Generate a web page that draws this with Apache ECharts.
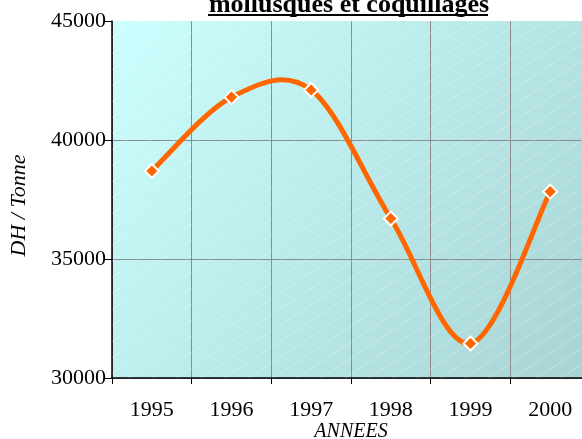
<!DOCTYPE html>
<html>
<head>
<meta charset="utf-8">
<script src="https://cdn.jsdelivr.net/npm/echarts@6/dist/echarts.min.js"></script>
<style>
  html, body { margin: 0; padding: 0; background: #fff; }
  #chart { width: 582px; height: 439px; }
</style>
</head>
<body>
<div id="chart"></div>
<script>
const years = ['1995', '1996', '1997', '1998', '1999', '2000']
const tonnage = [38700, 41800, 42100, 36700, 31450, 37830]
const yTicks = { min: 30000, max: 45000, step: 5000 }

const serif = 'Liberation Serif'

// faint diagonal hatching over the plot background
function hatchPattern() {
  const c = document.createElement('canvas')
  c.width = 24
  c.height = 16
  const ctx = c.getContext('2d')
  ctx.strokeStyle = 'rgba(255,255,255,0.25)'
  ctx.lineWidth = 1
  ctx.beginPath()
  ctx.moveTo(0, 16)
  ctx.lineTo(24, 0)
  ctx.stroke()
  return c
}

// excel-like smoothed segment (catmull-rom through the data points)
function renderCurve(params, api) {
  const i = params.dataIndex
  const n = tonnage.length
  if (i >= n - 1) return null
  const pt = j => api.coord([Math.max(0, Math.min(n - 1, j)), tonnage[Math.max(0, Math.min(n - 1, j))]])
  const p0 = pt(i - 1), p1 = pt(i), p2 = pt(i + 1), p3 = pt(i + 2)
  return {
    type: 'bezierCurve',
    shape: {
      x1: p1[0], y1: p1[1],
      x2: p2[0], y2: p2[1],
      cpx1: p1[0] + (p2[0] - p0[0]) / 6, cpy1: p1[1] + (p2[1] - p0[1]) / 6,
      cpx2: p2[0] - (p3[0] - p1[0]) / 6, cpy2: p2[1] - (p3[1] - p1[1]) / 6
    },
    style: { stroke: '#ff6600', lineWidth: 5, fill: null, lineCap: 'round' }
  }
}

const chart = echarts.init(document.getElementById('chart'))

const option = {
  backgroundColor: '#ffffff',
  animation: false,
  title: {
    text: 'mollusques et coquillages',
    left: 344,
    top: -13,
    textAlign: 'center',
    textStyle: { fontFamily: serif, fontSize: 26, fontWeight: 'bold', color: '#000' }
  },
  graphic: [{
    type: 'line',
    shape: { x1: 208, y1: 15, x2: 488, y2: 15 },
    style: { stroke: '#000', lineWidth: 2 }
  }],
  grid: {
    left: 112,
    right: -8,
    top: 21,
    bottom: 61,
    outerBoundsMode: 'none',
    containLabel: false,
    show: true,
    borderWidth: 0,
    backgroundColor: {
      type: 'linear', x: 0, y: 0, x2: 1, y2: 1,
      colorStops: [
        { offset: 0, color: '#ccffff' },
        { offset: 1, color: '#a8d3d3' }
      ]
    }
  },
  xAxis: {
    type: 'category',
    data: years,
    boundaryGap: true,
    name: 'ANNEES',
    nameLocation: 'middle',
    nameGap: 44,
    nameMoveOverlap: false,
    nameTextStyle: { fontFamily: serif, fontSize: 20, fontStyle: 'italic', color: '#000' },
    axisLine: { lineStyle: { color: '#000', width: 1.5 } },
    axisTick: { show: true, length: 6, lineStyle: { color: '#000' } },
    axisLabel: { fontFamily: serif, fontSize: 22, color: '#000', margin: 21 },
    splitLine: { show: true, lineStyle: { color: '#8c8c8c', width: 1 } }
  },
  yAxis: {
    type: 'value',
    min: yTicks.min,
    max: yTicks.max,
    interval: yTicks.step,
    name: 'DH / Tonne',
    nameLocation: 'middle',
    nameGap: 82,
    nameMoveOverlap: false,
    nameTextStyle: {
      fontFamily: serif, fontSize: 22, fontStyle: 'italic', color: '#000',
      padding: [0, 12, 0, 0]
    },
    axisLine: { show: true, lineStyle: { color: '#000', width: 1.5 } },
    axisTick: { show: true, length: 8, lineStyle: { color: '#000' } },
    axisLabel: { fontFamily: serif, fontSize: 22, color: '#000', margin: 6, formatter: v => String(v) },
    splitLine: { show: true, showMaxLine: false, lineStyle: { color: '#8c8c8c', width: 1 } }
  },
  series: [{
    type: 'custom',
    renderItem: renderCurve,
    data: tonnage.map((v, i) => [i, v]),
    encode: { x: 0, y: 1 },
    z: 2,
    markArea: {
      silent: true,
      itemStyle: { color: { image: hatchPattern(), repeat: 'repeat' } },
      data: [[{ yAxis: yTicks.min }, { yAxis: yTicks.max }]]
    }
  }, {
    type: 'line',
    data: tonnage,
    lineStyle: { width: 0, opacity: 0 },
    symbol: 'diamond',
    symbolSize: 14,
    itemStyle: { color: '#ff6600', borderColor: '#ffffff', borderWidth: 2 },
    z: 3
  }]
}

chart.setOption(option)
</script>
</body>
</html>
